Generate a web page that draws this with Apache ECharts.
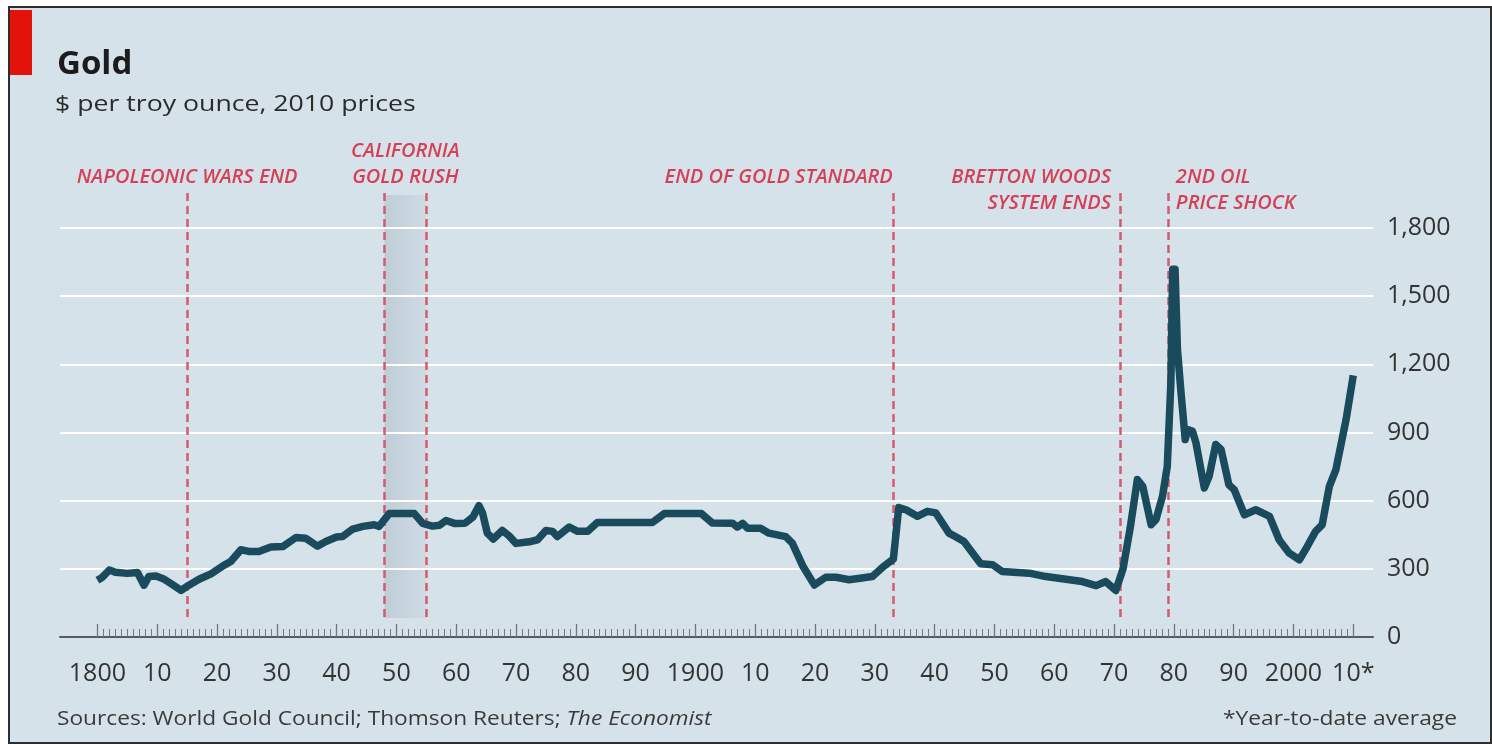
<!DOCTYPE html>
<html>
<head>
<meta charset="utf-8">
<title>Gold</title>
<script src="https://cdn.jsdelivr.net/npm/echarts@6.0.0/dist/echarts.min.js"></script>
<style>
html,body{margin:0;padding:0;background:#ffffff;}
#frame{position:absolute;left:8px;top:6px;width:1480px;height:734px;border:2px solid #2e2e2e;background:#d6e2ea;}
#chart{position:absolute;left:0;top:0;width:1492px;height:744px;}
</style>
</head>
<body>
<div id="frame"></div>
<div id="chart"></div>
<script>
// ---- data ----
const years = [
  1800.0, 1800.8, 1802.0, 1803.0, 1805.0, 1806.7, 1807.8, 1808.6, 1809.8, 1811.2,
  1812.5, 1814.0, 1815.3, 1817.0, 1819.0, 1821.0, 1822.3, 1824.0, 1825.5, 1827.0,
  1829.0, 1831.0, 1833.2, 1834.8, 1836.8, 1838.2, 1840.0, 1841.0, 1842.7, 1844.4,
  1846.3, 1847.1, 1848.8, 1853.0, 1854.4, 1856.0, 1857.2, 1858.3, 1859.7, 1861.5,
  1862.8, 1863.8, 1864.4, 1865.2, 1866.2, 1867.7, 1868.8, 1870.0, 1872.2, 1873.6,
  1875.0, 1876.1, 1876.9, 1878.9, 1880.3, 1882.0, 1883.6, 1892.8, 1894.8, 1901.0,
  1902.8, 1906.2, 1907.0, 1907.9, 1908.7, 1910.9, 1912.3, 1915.1, 1916.2, 1918.0,
  1919.9, 1921.8, 1923.5, 1925.7, 1929.6, 1931.3, 1933.1, 1934.0, 1935.2, 1937.1,
  1938.8, 1940.2, 1942.4, 1943.6, 1944.9, 1947.7, 1949.7, 1951.3, 1955.8, 1958.6,
  1964.7, 1967.0, 1968.6, 1970.3, 1971.5, 1972.7, 1973.9, 1974.8, 1976.2, 1977.0,
  1978.1, 1978.9, 1979.5, 1979.8, 1980.2, 1980.6, 1981.2, 1981.9, 1982.3, 1983.1,
  1983.7, 1985.1, 1985.9, 1987.0, 1987.9, 1989.2, 1990.1, 1991.8, 1993.7, 1996.0,
  1997.6, 1999.3, 2001.0, 2002.3, 2003.7, 2004.8, 2006.0, 2007.1, 2008.8, 2010.0
];
const prices = [
  250, 262, 295, 285, 280, 284, 228, 266, 268, 254,
  232, 205, 228, 254, 278, 313, 332, 384, 376, 376,
  396, 398, 438, 435, 400, 420, 440, 442, 475, 487,
  494, 487, 543, 543, 500, 488, 492, 513, 500, 501,
  528, 578, 546, 457, 431, 469, 446, 412, 419, 428,
  469, 465, 442, 484, 465, 465, 504, 504, 543, 543,
  502, 501, 484, 500, 479, 479, 457, 442, 413, 310,
  229, 263, 263, 252, 266, 307, 343, 570, 560, 531,
  553, 546, 457, 440, 420, 322, 318, 288, 281, 266,
  244, 226, 244, 205, 300, 480, 693, 663, 494, 516,
  619, 751, 1119, 1619, 1619, 1266, 1075, 869, 913, 906,
  854, 656, 707, 847, 825, 670, 648, 538, 560, 531,
  428, 369, 340, 398, 465, 494, 663, 737, 957, 1151
];
const decadeTicks = [1800,1810,1820,1830,1840,1850,1860,1870,1880,1890,1900,
                     1910,1920,1930,1940,1950,1960,1970,1980,1990,2000,2010];
const decadeLabels = ['1800','10','20','30','40','50','60','70','80','90','1900',
                      '10','20','30','40','50','60','70','80','90','2000','10*'];
const yTickValues = [0, 300, 600, 900, 1200, 1500, 1800];
const yTickLabels = ['0','300','600','900','1,200','1,500','1,800'];

const eventYears = [1815, 1848, 1855, 1933, 1971, 1979];
const goldRushBand = [1848, 1855];
const eventLabels = [
  {text: 'NAPOLEONIC WARS END', at: 1815, align: 'center'},
  {text: 'CALIFORNIA\nGOLD RUSH', at: 1851.5, align: 'center', twoLine: true, up: true},
  {text: 'END OF GOLD STANDARD', at: 1933, align: 'right'},
  {text: 'BRETTON WOODS\nSYSTEM ENDS', at: 1971, align: 'right', twoLine: true},
  {text: '2ND OIL\nPRICE SHOCK', at: 1979, align: 'left', twoLine: true}
];

const yearTicks = [];
for (let y = 1800; y <= 2010; y++) yearTicks.push(y);

// ---- chart ----
const FONT = "'Open Sans', 'Noto Sans', sans-serif";
const chart = echarts.init(document.getElementById('chart'), null, {renderer: 'canvas'});

const option = {
  animation: false,
  backgroundColor: 'transparent',
  title: {
    text: 'Gold',
    left: 52, top: 43,
    textStyle: {fontFamily: FONT, fontSize: 33, fontWeight: 'bold', color: '#1c1c1c'}
  },
  grid: {left: 60, right: 119, top: 228, bottom: 107, containLabel: false},
  xAxis: [{
    type: 'value', min: 1793.75, max: 2013.3, z: 4,
    splitLine: {show: false},
    axisLine: {show: true, onZero: false, lineStyle: {color: '#565b60', width: 2}},
    axisTick: {show: true, inside: true, length: 13, customValues: decadeTicks,
               lineStyle: {color: '#6c7277', width: 1.3}},
    axisLabel: {
      customValues: decadeTicks, margin: 24,
      fontFamily: FONT, fontSize: 25, color: '#333',
      formatter: v => decadeLabels[decadeTicks.indexOf(Math.round(v))]
    }
  }, {
    type: 'value', min: 1793.75, max: 2013.3, position: 'bottom', z: 4,
    splitLine: {show: false},
    axisLine: {show: false},
    axisTick: {show: true, inside: true, length: 8, customValues: yearTicks,
               lineStyle: {color: '#72787d', width: 1}},
    axisLabel: {show: false}
  }],
  yAxis: {
    type: 'value', position: 'right', min: 0, max: 1800, interval: 300,
    axisLine: {show: false}, axisTick: {show: false},
    axisLabel: {
      margin: 14, align: 'left', fontFamily: FONT, fontSize: 25, color: '#333',
      formatter: v => yTickLabels[yTickValues.indexOf(v)]
    },
    splitLine: {show: true, lineStyle: {color: '#ffffff', width: 2}}
  },
  series: [{
    type: 'line',
    data: years.map((y, i) => [y, prices[i]]),
    showSymbol: false,
    z: 5,
    lineStyle: {color: '#1a4b5d', width: 7.5, join: 'round', cap: 'butt'}
  }]
};
chart.setOption(option);

// ---- annotations through the chart's own x scale ----
const px = yr => chart.convertToPixel({xAxisIndex: 0}, yr);
const lineTop = 193, lineBottom = 618;
const RED = '#d63f55';
const graphics = [];

graphics.push({
  type: 'rect', z: -1, silent: true,
  shape: {x: px(goldRushBand[0]), y: lineTop + 2, width: px(goldRushBand[1]) - px(goldRushBand[0]), height: lineBottom - lineTop - 2},
  style: {fill: new echarts.graphic.LinearGradient(0, 0, 1, 0, [
    {offset: 0, color: '#bfcdd8'}, {offset: 1, color: '#cfdbe4'}])}
});
eventYears.forEach(yr => {
  const x = Math.round(px(yr)) + 0.5;
  graphics.push({
    type: 'line', z: 1, silent: true,
    shape: {x1: x, y1: lineTop, x2: x, y2: lineBottom},
    style: {stroke: '#d65a6c', lineWidth: 2.5, lineDash: [8, 5]}
  });
});
eventLabels.forEach(ev => {
  let x = px(ev.at);
  if (ev.align === 'right') x -= (ev.twoLine ? 9 : 0);
  if (ev.align === 'left') x += 8;
  const top = ev.up ? 138 : 164;
  graphics.push({
    type: 'text', z: 3, silent: true,
    x: x, y: top,
    style: {
      text: ev.text, fill: RED,
      font: "italic 600 20px " + FONT,
      lineHeight: 26.5,
      align: ev.align, verticalAlign: 'top'
    }
  });
});
// red tab
graphics.push({type: 'rect', z: 3, silent: true, shape: {x: 10, y: 10, width: 22, height: 65}, style: {fill: '#e3120b'}});
// subtitle
graphics.push({
  type: 'text', z: 3, silent: true, x: 55, y: 95, scaleX: 1.27,
  style: {text: '$ per troy ounce, 2010 prices', font: "21px " + FONT, fill: '#2a2a2a', verticalAlign: 'top'}
});
// footer
graphics.push({
  type: 'text', z: 3, silent: true, x: 57, y: 709, scaleX: 1.135,
  style: {
    text: '{a|Sources: World Gold Council; Thomson Reuters; }{b|The Economist}',
    rich: {
      a: {fontFamily: FONT, fontSize: 20, fill: '#3a3a3a'},
      b: {fontFamily: FONT, fontSize: 20, fontStyle: 'italic', fill: '#3a3a3a'}
    },
    verticalAlign: 'top'
  }
});
graphics.push({
  type: 'text', z: 3, silent: true, x: 1457, y: 709, scaleX: 1.14,
  style: {text: '*Year-to-date average', font: "20px " + FONT, fill: '#3a3a3a', align: 'right', verticalAlign: 'top'}
});
chart.setOption({graphic: graphics});
</script>
</body>
</html>
